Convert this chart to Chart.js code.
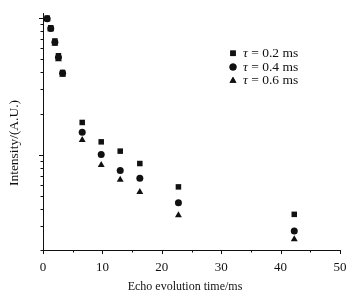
<!DOCTYPE html>
<html>
<head>
<meta charset="utf-8">
<script src="https://cdn.jsdelivr.net/npm/chart.js@4.4.0/dist/chart.umd.min.js"></script>
<style>
  html, body { margin: 0; padding: 0; background: #fff; }
</style>
</head>
<body>
<canvas id="chart" width="358" height="298"></canvas>
<script>
// echo evolution times (ms)
const echoTimes = [0.7, 1.3, 2.0, 2.6, 3.3, 6.6, 9.8, 13.0, 16.3, 22.8, 42.3];

// normalized intensity for each tau
const tau02 = [1.0, 0.85, 0.68, 0.53, 0.40, 0.172, 0.124, 0.106, 0.086, 0.058, 0.0365];
const tau04 = [0.99, 0.84, 0.665, 0.515, 0.395, 0.146, 0.100, 0.0764, 0.0671, 0.0443, 0.0275];
const tau06 = [0.98, 0.83, 0.65, 0.50, 0.385, 0.128, 0.0838, 0.0653, 0.0531, 0.0359, 0.0240];

const seriesNames = ["0.2 ms", "0.4 ms", "0.6 ms"];
const xTickLabels = [0, 10, 20, 30, 40, 50];

const xTitle = "Echo evolution time/ms";
const yTitle = "Intensity/(A.U.)";

const FONT = "'Liberation Serif', 'Times New Roman', serif";
const INK = "#111";

const toPoints = (ys) => echoTimes.map((t, i) => ({ x: t, y: ys[i] }));

const series = [
  { label: seriesNames[0], data: toPoints(tau02), pointStyle: "rect", pointRadius: 3.9 },
  { label: seriesNames[1], data: toPoints(tau04), pointStyle: "circle", pointRadius: 3.5 },
  { label: seriesNames[2], data: toPoints(tau06), pointStyle: "triangle", pointRadius: 4 },
];

// tick marks, axis titles and the legend are drawn by hand
const decorations = {
  id: "decorations",
  afterDraw(chart) {
    const ctx = chart.ctx;
    const xs = chart.scales.x;
    const ys = chart.scales.y;
    const area = chart.chartArea;
    ctx.save();
    ctx.strokeStyle = INK;
    ctx.lineWidth = 1;

    // x ticks, every 5, long on the labelled ones
    xs.ticks.forEach((t) => {
      const px = Math.round(xs.getPixelForValue(t.value)) + 0.5;
      const len = t.value % 10 === 0 ? 4 : 2.5;
      ctx.beginPath();
      ctx.moveTo(px, area.bottom);
      ctx.lineTo(px, area.bottom + len);
      ctx.stroke();
    });

    // y ticks at 1..9 x 10^n
    ys.ticks.forEach((t) => {
      const v = t.value;
      const p = Math.pow(10, Math.floor(Math.log10(v) + 1e-9));
      const sig = v / p;
      if (Math.abs(sig - Math.round(sig)) > 1e-6) return;
      const py = Math.round(ys.getPixelForValue(v)) + 0.5;
      const len = Math.round(sig) === 1 ? 4 : 2.5;
      ctx.beginPath();
      ctx.moveTo(area.left, py);
      ctx.lineTo(area.left - len, py);
      ctx.stroke();
    });

    ctx.fillStyle = INK;

    // x title
    ctx.font = "12px " + FONT;
    ctx.textAlign = "center";
    ctx.textBaseline = "middle";
    ctx.fillText(xTitle, 185, 287);

    // y title
    ctx.save();
    ctx.translate(14, 143);
    ctx.rotate(-Math.PI / 2);
    ctx.font = "13.5px " + FONT;
    ctx.fillText(yTitle, 0, 0);
    ctx.restore();

    // legend
    const rows = [53.3, 67, 80.7];
    ctx.textAlign = "left";
    series.forEach((s, i) => {
      Chart.helpers.drawPoint(ctx, {
        pointStyle: s.pointStyle,
        radius: s.pointRadius,
        rotation: 0,
        borderWidth: 0,
      }, 233, rows[i]);
      ctx.fill();
      let x = 243;
      ctx.font = "italic 13.5px " + FONT;
      ctx.fillText("\u03c4", x, rows[i]);
      x += ctx.measureText("\u03c4").width;
      ctx.font = "13.5px " + FONT;
      ctx.fillText(" = " + s.label, x, rows[i]);
    });

    ctx.restore();
  },
};

new Chart(document.getElementById("chart"), {
  type: "scatter",
  data: {
    datasets: series.map((s) => ({
      label: s.label,
      data: s.data,
      pointStyle: s.pointStyle,
      pointRadius: s.pointRadius,
      pointHoverRadius: s.pointRadius,
      pointBackgroundColor: INK,
      pointBorderColor: INK,
      pointBorderWidth: 0,
      showLine: false,
    })),
  },
  options: {
    responsive: false,
    animation: false,
    devicePixelRatio: 1,
    layout: { padding: { top: 13, right: 18, left: 0, bottom: 0 } },
    plugins: {
      legend: { display: false },
      tooltip: { enabled: false },
    },
    scales: {
      x: {
        type: "linear",
        min: 0,
        max: 50,
        afterFit: (s) => { s.height = 48; },
        grid: { display: false, drawTicks: false },
        border: { display: true, color: INK, width: 1 },
        ticks: {
          stepSize: 5,
          padding: 10,
          color: INK,
          maxRotation: 0,
          autoSkip: false,
          font: { family: FONT, size: 13 },
          callback: (v) => (xTickLabels.includes(v) ? String(v) : ""),
        },
      },
      y: {
        type: "logarithmic",
        min: 0.02,
        max: 1.09,
        afterFit: (s) => { s.width = 43; },
        grid: { display: false, drawTicks: false },
        border: { display: true, color: INK, width: 1 },
        ticks: { display: false },
      },
    },
  },
  plugins: [decorations],
});
</script>
</body>
</html>
